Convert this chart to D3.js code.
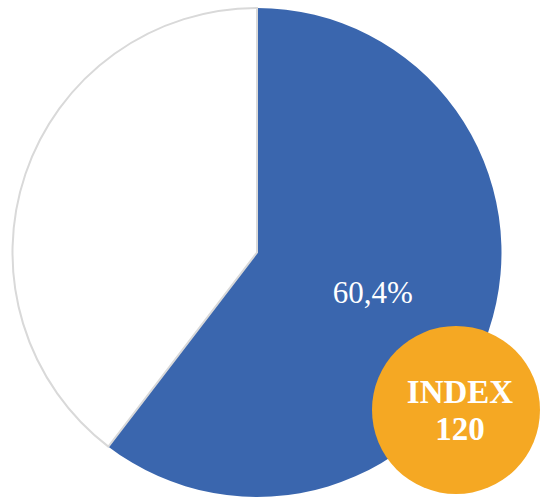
<!DOCTYPE html>
<html><head><meta charset="utf-8">
<script src="https://cdn.jsdelivr.net/npm/d3@7"></script>
<style>html,body{margin:0;padding:0;background:#fff;}svg{display:block;}</style>
</head><body>
<svg id="chart" width="540" height="498"></svg>
<script>
const categories = ["Share", "Rest"];
const values = [60.4, 39.6];
const labels = ["60,4%", ""];
const badgeLines = ["INDEX", "120"];

const W = 540, H = 498;
const cx = 257, cy = 252.5, R = 244.5;
const svg = d3.select("#chart");
const color = d3.scaleOrdinal().domain(categories).range(["#3A66AE", "#FFFFFF"]);
const pie = d3.pie().sort(null).value(d => d)(values);
const arc = d3.arc().innerRadius(0).outerRadius(R);
const labelArc = d3.arc().innerRadius(R * 0.5).outerRadius(R * 0.5);
const g = svg.append("g").attr("transform", `translate(${cx},${cy})`);

g.selectAll("path.slice").data(pie).join("path")
  .attr("class", "slice")
  .attr("d", arc)
  .attr("fill", (d, i) => color(categories[i]))
  .attr("stroke", (d, i) => i === 1 ? "#D9D9D9" : "none")
  .attr("stroke-width", 2);

g.selectAll("text.lbl").data(pie).join("text")
  .attr("class", "lbl")
  .attr("transform", d => `translate(${labelArc.centroid(d)})`)
  .attr("text-anchor", "middle")
  .attr("dy", "0.35em")
  .attr("fill", "#fff")
  .style("font-family", "'Liberation Serif','DejaVu Serif',serif")
  .style("font-size", "31px")
  .text((d, i) => labels[i]);

const bx = 456, by = 410, br = 84;
const badge = svg.append("g").attr("transform", `translate(${bx},${by})`);
badge.append("circle").attr("r", br).attr("fill", "#F5A823");
badge.selectAll("text").data(badgeLines).join("text")
  .attr("x", 4)
  .attr("y", (d, i) => -19 + i * 37)
  .attr("text-anchor", "middle")
  .attr("dy", "0.35em")
  .attr("fill", "#fff")
  .style("font-family", "'Liberation Serif','DejaVu Serif',serif")
  .style("font-weight", "bold")
  .style("font-size", "33px")
  .text(d => d);
</script>
</body></html>
